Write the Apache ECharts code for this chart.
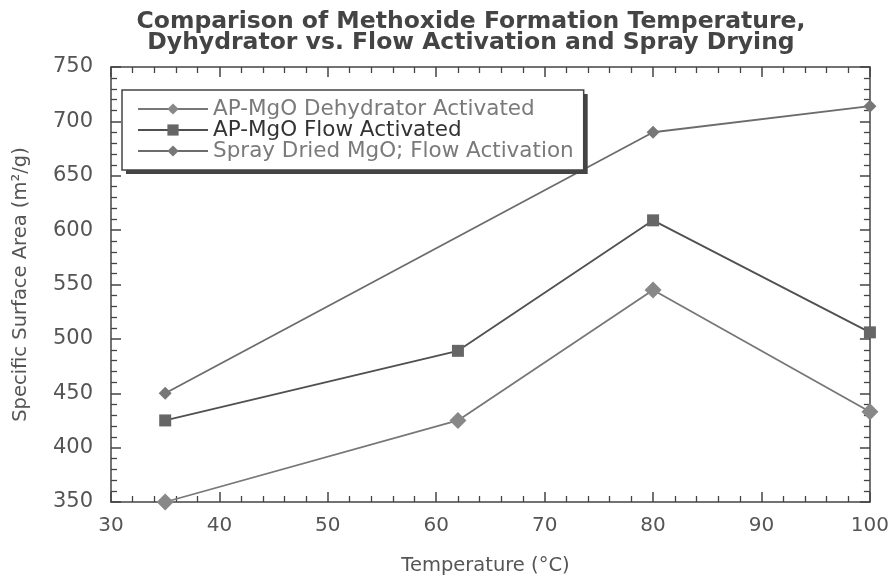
<!DOCTYPE html>
<html>
<head>
<meta charset="utf-8">
<script src="https://cdn.jsdelivr.net/npm/echarts@6/dist/echarts.min.js"></script>
<style>
html,body{margin:0;padding:0;background:#fff;}
#chart{width:892px;height:581px;}
</style>
</head>
<body>
<div id="chart"></div>
<script>
const titleLines = ['Comparison of Methoxide Formation Temperature,', 'Dyhydrator vs. Flow Activation and Spray Drying'];
const xName = 'Temperature (°C)';
const yName = 'Specific Surface Area (m²/g)';
const seriesNames = ['AP-MgO Dehydrator Activated', 'AP-MgO Flow Activated', 'Spray Dried MgO; Flow Activation'];
const dehydratorX = [35, 62, 80, 100];
const dehydratorY = [350, 425, 545, 433];
const flowX = [35, 62, 80, 100];
const flowY = [425, 489, 609, 506];
const sprayX = [35, 80, 100];
const sprayY = [450, 690, 714];
const xMin = 30, xMax = 100, xInterval = 10;
const yMin = 350, yMax = 750, yInterval = 50;

const pairs = (xs, ys) => xs.map((x, i) => [x, ys[i]]);
const FONT = 'DejaVu Sans';

const chart = echarts.init(document.getElementById('chart'), null, {renderer: 'canvas'});

const axisCommon = {
  axisLine: {show: true, lineStyle: {color: '#444', width: 1.5}},
  axisTick: {show: true, inside: true, length: 10, lineStyle: {color: '#444', width: 1.5}},
  minorTick: {show: true, splitNumber: 5, length: 6, lineStyle: {color: '#444', width: 1.3}},
  splitLine: {show: false},
  minorSplitLine: {show: false}
};

const legendLayout = {
  orient: 'vertical',
  left: 122,
  top: 90,
  padding: [8, 10, 8, 15],
  itemWidth: 70,
  itemHeight: 14,
  itemGap: -1,
  selectedMode: false
};
const legendData = [
  {name: seriesNames[0], textStyle: {color: '#7a7a7a'}},
  {name: seriesNames[1], textStyle: {color: '#333'}},
  {name: seriesNames[2], textStyle: {color: '#7a7a7a'}}
];

chart.setOption({
  backgroundColor: '#ffffff',
  animation: false,
  title: {
    text: titleLines.join('\n'),
    left: 471,
    top: 11,
    padding: 0,
    textAlign: 'center',
    textStyle: {fontFamily: FONT, fontWeight: 'bold', fontSize: 23.5, lineHeight: 21, color: '#444'}
  },
  legend: [
    Object.assign({}, legendLayout, {
      backgroundColor: '#fff',
      borderWidth: 0,
      shadowColor: '#444',
      shadowBlur: 0,
      shadowOffsetX: 4,
      shadowOffsetY: 4,
      textStyle: {fontFamily: FONT, fontSize: 21.5, lineHeight: 20, color: '#777'},
      data: legendData
    }),
    Object.assign({}, legendLayout, {
      backgroundColor: 'transparent',
      borderColor: '#444',
      borderWidth: 1.5,
      itemStyle: {opacity: 0},
      lineStyle: {opacity: 0},
      textStyle: {fontFamily: FONT, fontSize: 21.5, lineHeight: 20, color: 'rgba(0,0,0,0)'},
      data: seriesNames.map(n => ({name: n, textStyle: {color: 'rgba(0,0,0,0)'}}))
    })
  ],
  grid: {left: 111, right: 15, top: 67, bottom: 78, containLabel: false},
  xAxis: [
    Object.assign({}, axisCommon, {
      type: 'value', min: xMin, max: xMax, interval: xInterval,
      axisLabel: {fontFamily: FONT, fontSize: 20, color: '#555', margin: 14},
      name: xName, nameLocation: 'middle', nameGap: 54,
      nameTextStyle: {fontFamily: FONT, fontSize: 19.5, color: '#555', padding: [0, 10, 0, 0]}
    }),
    Object.assign({}, axisCommon, {
      type: 'value', min: xMin, max: xMax, interval: xInterval, position: 'top',
      axisLabel: {show: false}
    })
  ],
  yAxis: [
    Object.assign({}, axisCommon, {
      type: 'value', min: yMin, max: yMax, interval: yInterval,
      axisLabel: {fontFamily: FONT, fontSize: 21, color: '#555', margin: 18},
      name: yName, nameLocation: 'middle', nameGap: 80,
      nameTextStyle: {fontFamily: FONT, fontSize: 19.5, color: '#555'}
    }),
    Object.assign({}, axisCommon, {
      type: 'value', min: yMin, max: yMax, interval: yInterval, position: 'right',
      axisLabel: {show: false}
    })
  ],
  series: [
    {
      name: seriesNames[0], type: 'line', data: pairs(dehydratorX, dehydratorY),
      symbol: 'diamond', symbolSize: 17,
      lineStyle: {color: '#777', width: 1.8},
      itemStyle: {color: '#888'}
    },
    {
      name: seriesNames[1], type: 'line', data: pairs(flowX, flowY),
      symbol: 'rect', symbolSize: 12,
      lineStyle: {color: '#505050', width: 1.8},
      itemStyle: {color: '#666'}
    },
    {
      name: seriesNames[2], type: 'line', data: pairs(sprayX, sprayY),
      symbol: 'diamond', symbolSize: 13,
      lineStyle: {color: '#6c6c6c', width: 1.8},
      itemStyle: {color: '#777'}
    }
  ]
});
</script>
</body>
</html>
